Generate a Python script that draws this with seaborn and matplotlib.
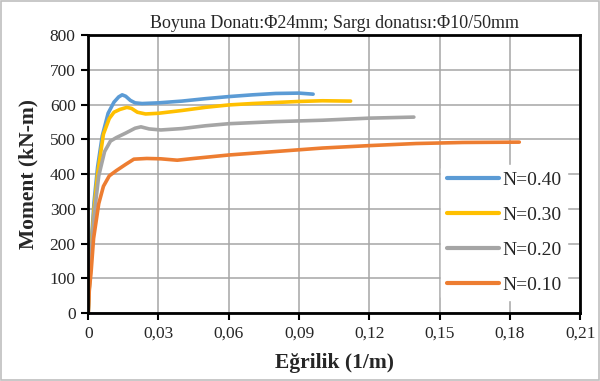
import pandas as pd
import numpy as np
import matplotlib
matplotlib.use("Agg")
import matplotlib.pyplot as plt
import seaborn as sns

# okunan degerler (egrilik 1/m, moment kN-m)
x_040 = [0, 0.001, 0.0025, 0.004, 0.006, 0.0085, 0.011, 0.013, 0.0145, 0.016, 0.018, 0.020, 0.023,
         0.03, 0.04, 0.05, 0.06, 0.07, 0.08, 0.09, 0.096]
y_040 = [0, 170, 320, 420, 510, 575, 607, 622, 628, 624, 612, 605, 603,
         605, 610, 617, 623, 628, 632, 633, 630]

x_030 = [0, 0.001, 0.0025, 0.004, 0.0065, 0.009, 0.011, 0.0135, 0.0165, 0.0185, 0.021, 0.0245,
         0.03, 0.04, 0.05, 0.06, 0.07, 0.08, 0.09, 0.1, 0.112]
y_030 = [0, 160, 300, 400, 515, 560, 578, 586, 592, 589, 578, 573,
         575, 583, 592, 599, 603, 606, 609, 611, 610]

x_020 = [0, 0.001, 0.0025, 0.0045, 0.007, 0.0095, 0.012, 0.016, 0.02, 0.0225, 0.026, 0.031,
         0.04, 0.05, 0.06, 0.08, 0.1, 0.12, 0.139]
y_020 = [0, 150, 280, 395, 465, 495, 505, 518, 532, 536, 530, 527,
         531, 539, 545, 551, 555, 561, 564]

x_010 = [0, 0.0005, 0.0012, 0.0023, 0.0045, 0.0065, 0.009, 0.012, 0.016, 0.0195, 0.025, 0.031,
         0.038, 0.045, 0.06, 0.08, 0.1, 0.12, 0.14, 0.16, 0.184]
y_010 = [0, 70, 115, 215, 315, 365, 395, 410, 428, 443, 445, 444,
         440, 445, 455, 465, 475, 482, 488, 491, 492]

labels = ["N=0.40", "N=0.30", "N=0.20", "N=0.10"]
colors = ["#5B9BD5", "#FFC000", "#A5A5A5", "#ED7D31"]
x_ticks = [0, 0.03, 0.06, 0.09, 0.12, 0.15, 0.18, 0.21]
x_ticklabels = ["0", "0,03", "0,06", "0,09", "0,12", "0,15", "0,18", "0,21"]
y_ticks = [0, 100, 200, 300, 400, 500, 600, 700, 800]

parts = []
for lab, xs, ys in zip(labels, [x_040, x_030, x_020, x_010], [y_040, y_030, y_020, y_010]):
    parts.append(pd.DataFrame({"x": xs, "y": ys, "N": lab}))
df = pd.concat(parts, ignore_index=True)

sns.set_style("white")
plt.rcParams['font.family'] = ['Liberation Serif', 'DejaVu Serif']

fig = plt.figure(figsize=(6, 3.81), dpi=100)
ax = fig.add_axes([0.147, 0.178, 0.820, 0.730])
fig.patches.append(plt.Rectangle((0.002, 0.003), 0.996, 0.994, transform=fig.transFigure,
                                 fill=False, edgecolor="#bfbfbf", linewidth=1.2))

sns.lineplot(data=df, x="x", y="y", hue="N", hue_order=labels, palette=colors,
             sort=False, estimator=None, units="N", linewidth=2.6, ax=ax)

ax.set_xlim(0, 0.21)
ax.set_ylim(0, 800)
ax.set_xticks(x_ticks)
ax.set_xticklabels(x_ticklabels)
ax.set_yticks(y_ticks)
ax.tick_params(axis="both", labelsize=12.5, direction="out", length=5, width=1.5,
               color="black", left=True, bottom=True, pad=4)
ax.grid(True, color="#a6a6a6", linewidth=1.1)
ax.set_axisbelow(True)
for s in ax.spines.values():
    s.set_color("black")
    s.set_linewidth(2)

ax.set_xlabel("Eğrilik (1/m)", fontsize=15.5, fontweight="bold", labelpad=8)
ax.set_ylabel("Moment (kN-m)", fontsize=15.5, fontweight="bold", labelpad=8)
ax.set_title("Boyuna Donatı:Φ24mm; Sargı donatısı:Φ10/50mm", fontsize=13, pad=5)

leg = ax.legend(loc="center left", bbox_to_anchor=(0.697, 0.29), frameon=True, fontsize=14,
                handlelength=2.7, handletextpad=0.15, labelspacing=0.9, borderpad=0.3)
leg.get_frame().set_edgecolor("white")
leg.get_frame().set_facecolor("white")
leg.get_frame().set_alpha(1)
for line in leg.get_lines():
    line.set_linewidth(3)

fig.savefig("out.png", dpi=100)
